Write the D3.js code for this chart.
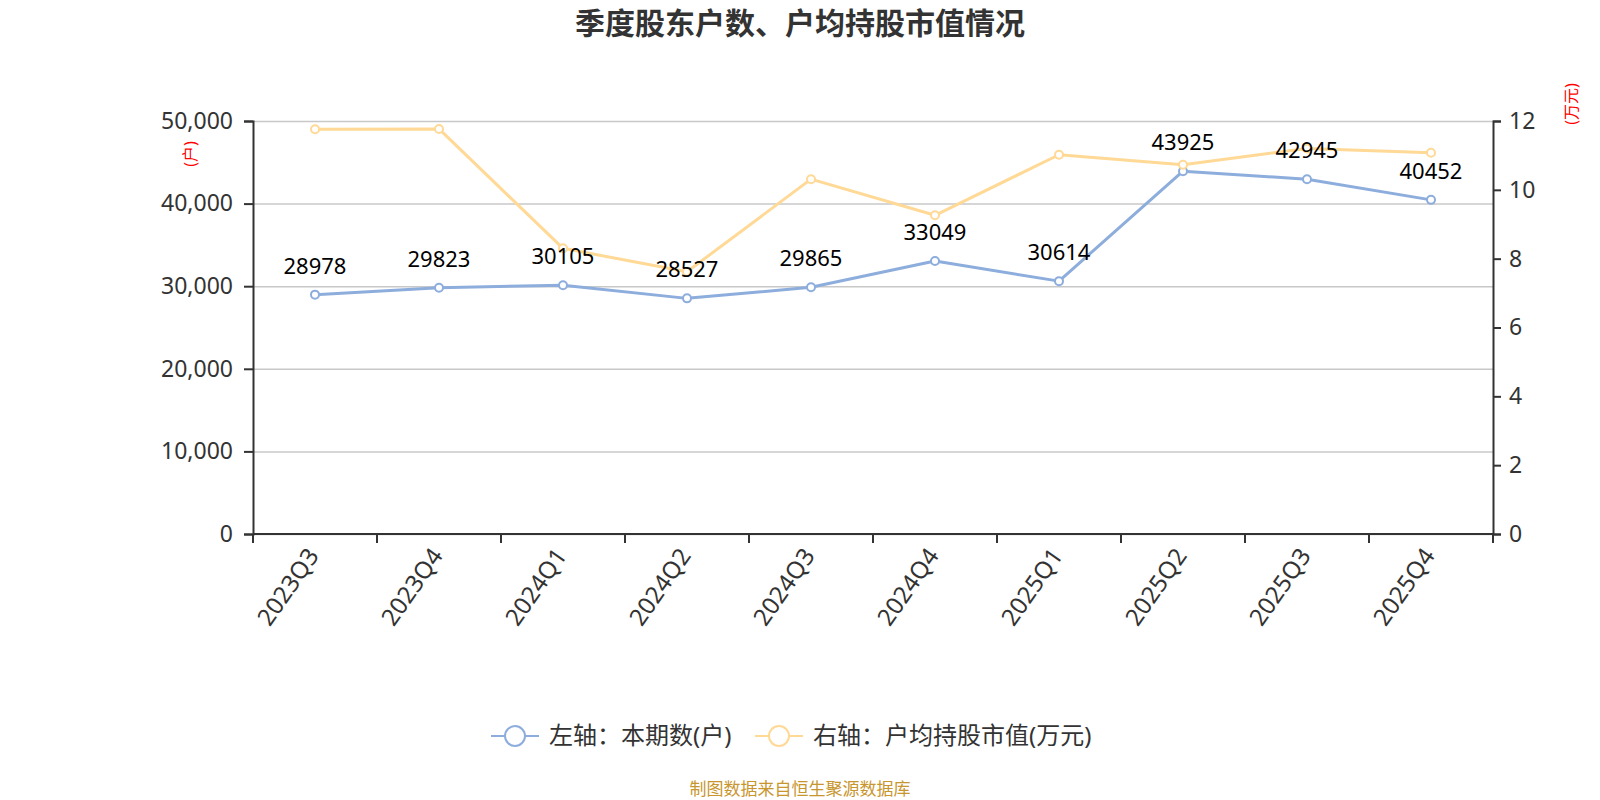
<!DOCTYPE html>
<html>
<head>
<meta charset="utf-8">
<script src="https://cdn.jsdelivr.net/npm/d3@7"></script>
<style>
  body { margin: 0; background: #fff; }
  svg { display: block; font-family: "Noto Sans", "Noto Sans CJK SC", sans-serif; }
</style>
</head>
<body>
<svg id="chart" width="1600" height="800"></svg>
<script>
// quarters on the x axis
var quarters = ['2023Q3', '2023Q4', '2024Q1', '2024Q2', '2024Q3', '2024Q4', '2025Q1', '2025Q2', '2025Q3', '2025Q4'];
// left axis: shareholder count (户)
var holders = [28978, 29823, 30105, 28527, 29865, 33049, 30614, 43925, 42945, 40452];
// right axis: avg market value per holder (万元)
var avgValue = [11.76, 11.77, 8.30, 7.62, 10.31, 9.26, 11.02, 10.73, 11.20, 11.08];
var leftTicks = [0, 10000, 20000, 30000, 40000, 50000];
var rightTicks = [0, 2, 4, 6, 8, 10, 12];

var blue = '#8DADDD';
var yellow = '#FFD995';
var plotLeft = 253, plotRight = 1493, plotTop = 121, plotBottom = 534;

var svg = d3.select('#chart');

var x = d3.scaleBand().domain(quarters).range([plotLeft, plotRight]);
var yL = d3.scaleLinear().domain([0, 50000]).range([plotBottom, plotTop]);
var yR = d3.scaleLinear().domain([0, 12]).range([plotBottom, plotTop]);

// title
svg.append('text')
  .attr('x', 800).attr('y', 34)
  .attr('text-anchor', 'middle')
  .attr('font-size', 30).attr('font-weight', 'bold')
  .attr('fill', '#333')
  .text('季度股东户数、户均持股市值情况');

// grid lines
svg.append('g')
  .attr('transform', 'translate(' + plotLeft + ',0)')
  .call(d3.axisLeft(yL).tickValues(leftTicks).tickSize(-(plotRight - plotLeft)).tickFormat(''))
  .call(function (g) {
    g.select('.domain').remove();
    g.selectAll('line').attr('stroke', '#c8c8c8').attr('stroke-width', 1.5);
  });

// left axis
var gl = svg.append('g')
  .attr('transform', 'translate(' + plotLeft + ',0)')
  .call(d3.axisLeft(yL).tickValues(leftTicks).tickSize(9).tickPadding(11).tickFormat(d3.format(',')))
  .attr('font-family', null).attr('font-size', null);
gl.select('.domain').attr('stroke', '#333').attr('stroke-width', 2);
gl.selectAll('line').attr('stroke', '#333').attr('stroke-width', 2);
gl.selectAll('text').attr('font-size', 23).attr('fill', '#333');

// right axis
var gr = svg.append('g')
  .attr('transform', 'translate(' + plotRight + ',0)')
  .call(d3.axisRight(yR).tickValues(rightTicks).tickSize(8).tickPadding(8))
  .attr('font-family', null).attr('font-size', null);
gr.select('.domain').attr('stroke', '#333').attr('stroke-width', 2);
gr.selectAll('line').attr('stroke', '#333').attr('stroke-width', 2);
gr.selectAll('text').attr('font-size', 23).attr('fill', '#333');

// bottom axis: ticks at band edges, labels at band centres
var edges = quarters.map(function (q) { return x(q); }).concat([plotRight]);
var gb = svg.append('g').attr('transform', 'translate(0,' + plotBottom + ')');
gb.append('line').attr('x1', plotLeft).attr('x2', plotRight).attr('stroke', '#333').attr('stroke-width', 2);
gb.selectAll('.tk').data(edges).enter().append('line')
  .attr('x1', function (d) { return d; }).attr('x2', function (d) { return d; })
  .attr('y1', 0).attr('y2', 9).attr('stroke', '#333').attr('stroke-width', 2);
gb.selectAll('.lb').data(quarters).enter().append('text')
  .attr('transform', function (d) { return 'translate(' + (x(d) + x.bandwidth() / 2 - 2) + ',17) rotate(-55)'; })
  .attr('text-anchor', 'end').attr('dy', '0.35em')
  .attr('font-size', 24).attr('fill', '#333')
  .text(function (d) { return d; });

// unit labels
svg.append('text')
  .attr('transform', 'translate(190,154) rotate(-90)')
  .attr('text-anchor', 'middle').attr('dy', '0.35em')
  .attr('font-size', 16).attr('fill', '#f00')
  .text('(户)');
svg.append('text')
  .attr('transform', 'translate(1571,104) rotate(-90)')
  .attr('text-anchor', 'middle').attr('dy', '0.35em')
  .attr('font-size', 16).attr('fill', '#f00')
  .text('(万元)');

function cx(i) { return x(quarters[i]) + x.bandwidth() / 2; }

function drawSeries(values, yScale, color) {
  var line = d3.line()
    .x(function (d, i) { return cx(i); })
    .y(function (d) { return yScale(d); });
  svg.append('path').datum(values)
    .attr('d', line).attr('fill', 'none')
    .attr('stroke', color).attr('stroke-width', 3).attr('stroke-linejoin', 'round');
  svg.append('g').selectAll('circle').data(values).enter().append('circle')
    .attr('cx', function (d, i) { return cx(i); })
    .attr('cy', function (d) { return yScale(d); })
    .attr('r', 4).attr('fill', '#fff').attr('stroke', color).attr('stroke-width', 2);
}

drawSeries(holders, yL, blue);
drawSeries(avgValue, yR, yellow);

// data labels on the holder series
svg.append('g').selectAll('text').data(holders).enter().append('text')
  .attr('x', function (d, i) { return cx(i); })
  .attr('y', function (d) { return yL(d) - 21; })
  .attr('text-anchor', 'middle')
  .attr('font-size', 22).attr('fill', '#000')
  .text(function (d) { return d; });

// legend
var legend = [
  { name: '左轴：本期数(户)', color: blue, x: 491 },
  { name: '右轴：户均持股市值(万元)', color: yellow, x: 755 }
];
var lg = svg.append('g').selectAll('g').data(legend).enter().append('g')
  .attr('transform', function (d) { return 'translate(' + d.x + ',736)'; });
lg.append('line').attr('x1', 0).attr('x2', 48).attr('stroke', function (d) { return d.color; }).attr('stroke-width', 2);
lg.append('circle').attr('cx', 24).attr('r', 10).attr('fill', '#fff')
  .attr('stroke', function (d) { return d.color; }).attr('stroke-width', 2);
lg.append('text').attr('x', 58).attr('dy', '0.35em')
  .attr('font-size', 24).attr('fill', '#333')
  .text(function (d) { return d.name; });

// footer
svg.append('text')
  .attr('x', 800).attr('y', 795)
  .attr('text-anchor', 'middle')
  .attr('font-size', 17).attr('fill', '#C8962E')
  .text('制图数据来自恒生聚源数据库');
</script>
</body>
</html>
